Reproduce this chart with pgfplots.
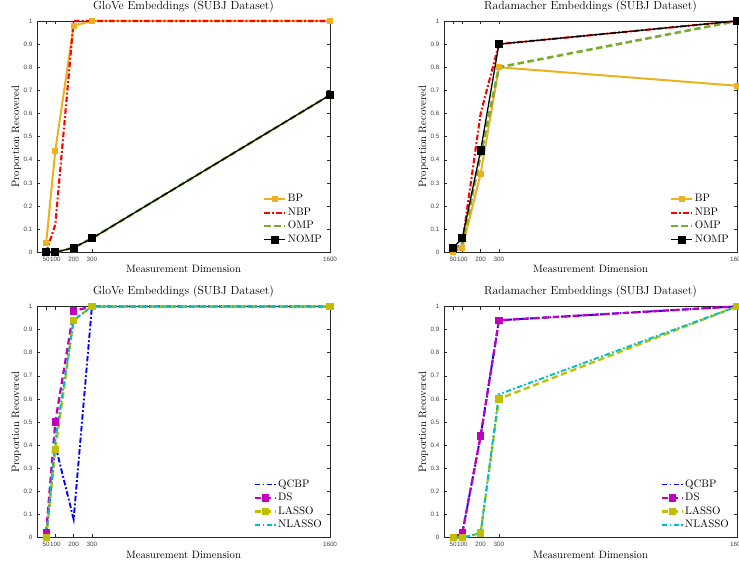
\documentclass[border=0pt]{standalone}
\usepackage{pgfplots}
\pgfplotsset{compat=1.18}
\usepackage{fontspec}
\newfontfamily\ticksans{Liberation Sans}
\definecolor{cBP}{HTML}{EDB120}
\definecolor{cNBP}{HTML}{FF0000}
\definecolor{cOMP}{HTML}{77AC30}
\definecolor{cQCBP}{HTML}{0000FF}
\definecolor{cDS}{HTML}{BF00BF}
\definecolor{cLASSO}{HTML}{BFBF00}
\definecolor{cNLASSO}{HTML}{00BFBF}
\definecolor{axgray}{HTML}{262626}
\definecolor{tickgray}{HTML}{404040}
\pgfplotsset{
  panel/.style={
    scale only axis, width=293bp, height=231.3bp,
    xmin=0, xmax=1600, ymin=0, ymax=1,
    xtick={50,100,200,300,1600}, xticklabels={50,100,200,300,1600},
    ytick={0,0.1,0.2,0.3,0.4,0.5,0.6,0.7,0.8,0.9,1},
    yticklabels={0,0.1,0.2,0.3,0.4,0.5,0.6,0.7,0.8,0.9,1},
    tick align=inside, major tick length=3.3bp,
    tick style={color=axgray, line width=0.5bp},
    axis line style={color=axgray, line width=0.7bp},
    /pgf/number format/assume math mode=true,
    tick label style={font=\ticksans\fontsize{6.3}{7}\selectfont, text=tickgray, inner sep=0pt},
    xticklabel style={yshift=-4.3bp},
    yticklabel style={xshift=-4.5bp},
    title style={font=\fontsize{11.8}{13}\selectfont, at={(axis description cs:0.5,1)}, anchor=base, yshift=5.7bp, inner sep=0pt},
    xlabel style={font=\fontsize{10.7}{12}\selectfont, at={(axis description cs:0.5,0)}, anchor=base, yshift=-20.5bp, inner sep=0pt},
    ylabel style={font=\fontsize{10.7}{12}\selectfont, at={(axis description cs:-0.0614,0.5)}, anchor=base, inner sep=0pt},
    xlabel={Measurement Dimension}, ylabel={Proportion Recovered},
    clip=false,
    legend cell align=left,
    legend image code/.code={\draw[mark repeat=2,mark phase=2,#1] plot coordinates {(0bp,0bp) (10.3bp,0bp) (20.6bp,0bp)};},
    legend style={draw=none, fill=none, at={(axis description cs:1,0)}, anchor=south east, xshift=-8bp, yshift=7.5bp,
      inner sep=0pt, row sep=3.5bp,
      nodes={inner sep=0pt, text height=7.5bp, text depth=2.5bp, font=\fontsize{10.9}{12}\selectfont},
      /tikz/every odd column/.append style={column sep=1.5bp}},
  },
  sBP/.style={color=cBP, line width=2bp, mark=square*, mark size=2bp, mark options={solid}},
  sNBP/.style={color=cNBP, line width=2.1bp, dash pattern=on 5.5bp off 2.2bp on 1.8bp off 2.2bp, no markers},
  sOMP/.style={color=cOMP, line width=2.6bp, dash pattern=on 6.5bp off 3.5bp, no markers},
  sNOMP/.style={color=black, line width=1.3bp, mark=square*, mark size=3.4bp, mark options={solid}},
  sQCBP/.style={color=cQCBP, line width=1.9bp, dash pattern=on 5.5bp off 2.2bp on 1.8bp off 2.2bp, no markers},
  sDS/.style={color=cDS, line width=2.3bp, dash pattern=on 6.5bp off 3.5bp, mark=square*, mark size=2.5bp, mark options={solid}},
  sLASSO/.style={color=cLASSO, line width=2.3bp, dash pattern=on 6.5bp off 3.5bp, mark=square*, mark size=2.5bp, mark options={solid}},
  sNLASSO/.style={color=cNLASSO, line width=1.9bp, dash pattern=on 5.5bp off 2.2bp on 1.8bp off 2.2bp, no markers},
}
\begin{document}
\begin{tikzpicture}
% top-left
\begin{axis}[panel, at={(37bp,309.7bp)}, anchor=south west, title={GloVe Embeddings (SUBJ Dataset)}]
\addplot[sBP] coordinates {(50,0.04) (100,0.44) (200,0.98) (300,1.0) (1600,1.0)};
\addplot[sNBP] coordinates {(50,0) (100,0.12) (200,1.0) (300,1.0) (1600,1.0)};
\addplot[sOMP] coordinates {(50,0) (100,0) (200,0.02) (300,0.06) (1600,0.68)};
\addplot[sNOMP] coordinates {(50,0) (100,0) (200,0.02) (300,0.06) (1600,0.68)};
\legend{BP,NBP,OMP,NOMP}
\end{axis}
% top-right
\begin{axis}[panel, at={(444bp,309.7bp)}, anchor=south west, title={Radamacher Embeddings (SUBJ Dataset)}]
\addplot[sBP] coordinates {(50,0) (100,0.02) (200,0.34) (300,0.80) (1600,0.72)};
\addplot[sNBP] coordinates {(50,0) (100,0.04) (200,0.60) (300,0.90) (1600,1.0)};
\addplot[sOMP] coordinates {(50,0.01) (100,0.04) (200,0.42) (300,0.80) (1600,1.0)};
\addplot[sNOMP] coordinates {(50,0.02) (100,0.06) (200,0.44) (300,0.90) (1600,1.0)};
\legend{BP,NBP,OMP,NOMP}
\end{axis}
% bottom-left
\begin{axis}[panel, at={(37bp,24.3bp)}, anchor=south west, title={GloVe Embeddings (SUBJ Dataset)}]
\addplot[sQCBP] coordinates {(50,0) (100,0.40) (200,0.08) (300,1.0) (1600,1.0)};
\addplot[sDS] coordinates {(50,0.02) (100,0.50) (200,0.98) (300,1.0) (1600,1.0)};
\addplot[sLASSO] coordinates {(50,0) (100,0.38) (200,0.94) (300,1.0) (1600,1.0)};
\addplot[sNLASSO] coordinates {(50,0) (100,0.42) (200,0.94) (300,1.0) (1600,1.0)};
\legend{QCBP,DS,LASSO,NLASSO}
\end{axis}
% bottom-right
\begin{axis}[panel, at={(444bp,24.3bp)}, anchor=south west, title={Radamacher Embeddings (SUBJ Dataset)}]
\addplot[sQCBP] coordinates {(50,0) (100,0.02) (200,0.44) (300,0.94) (1600,1.0)};
\addplot[sDS] coordinates {(50,0) (100,0.02) (200,0.44) (300,0.94) (1600,1.0)};
\addplot[sLASSO] coordinates {(50,0) (100,0) (200,0.02) (300,0.60) (1600,1.0)};
\addplot[sNLASSO] coordinates {(50,0) (100,0) (200,0.02) (300,0.62) (1600,1.0)};
\legend{QCBP,DS,LASSO,NLASSO}
\end{axis}
\pgfresetboundingbox
\useasboundingbox (0,0) rectangle (739bp,562bp);
\end{tikzpicture}
\end{document}
